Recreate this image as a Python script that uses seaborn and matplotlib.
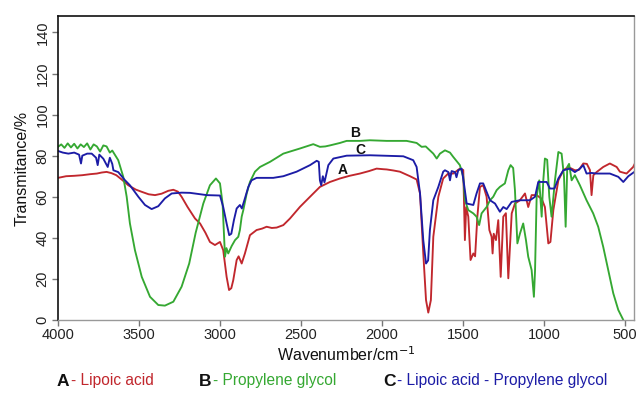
import numpy as np
import pandas as pd
import matplotlib
matplotlib.use("Agg")
import matplotlib.pyplot as plt
import seaborn as sns

# ---- data ----
wn_A = [4000, 3950, 3900, 3850, 3800, 3760, 3730, 3700, 3670, 3640, 3607, 3566, 3520, 3483, 3440, 3401,
        3360, 3319, 3288, 3260, 3237, 3200, 3154, 3123, 3090, 3062, 3031, 3000, 2980, 2959, 2944, 2930,
        2918, 2897, 2885, 2866, 2846, 2815, 2774, 2740, 2712, 2680, 2650, 2609, 2568, 2506, 2444, 2383,
        2321, 2259, 2200, 2136, 2080, 2033, 1990, 1971, 1930, 1889, 1827, 1786, 1765, 1745, 1728, 1714,
        1698, 1683, 1652, 1622, 1591, 1560, 1519, 1498, 1488, 1480, 1467, 1453, 1436, 1425, 1411, 1395,
        1375, 1354, 1337, 1323, 1317, 1310, 1296, 1282, 1267, 1251, 1235, 1220, 1199, 1179, 1148, 1117,
        1097, 1076, 1045, 1014, 994, 973, 960, 942, 911, 880, 850, 809, 785, 757, 735, 716, 706, 695,
        675, 634, 593, 551, 531, 490, 449, 440]
T_A = [69.2, 70.0, 70.2, 70.5, 71.0, 71.3, 71.8, 72.1, 71.5, 70.5, 68.4, 65.6, 63.5, 62.4, 61.2, 60.8,
       61.5, 62.9, 63.4, 62.5, 60.0, 55.0, 49.4, 47.0, 42.5, 38.0, 36.5, 38.0, 34.0, 21.0, 14.6, 15.5,
       19.4, 29.2, 31.0, 27.5, 32.4, 41.3, 43.8, 44.5, 45.4, 44.8, 45.0, 46.2, 49.4, 55.1, 60.0, 64.8,
       67.2, 68.9, 70.2, 71.3, 72.5, 73.7, 73.4, 73.3, 72.8, 72.2, 70.0, 68.4, 61.6, 32.6, 9.7, 3.6,
       9.7, 40.5, 60.0, 68.9, 71.3, 71.3, 73.7, 73.0, 38.9, 55.0, 50.3, 29.2, 32.4, 31.0, 50.3, 64.8,
       65.6, 60.0, 43.8, 40.5, 32.4, 42.0, 38.9, 48.6, 21.0, 50.3, 52.0, 20.3, 51.9, 56.7, 58.3, 61.6,
       55.0, 60.8, 60.8, 59.0, 55.0, 37.3, 38.0, 53.5, 68.0, 72.9, 74.5, 72.9, 73.0, 76.2, 76.0, 73.0, 60.8, 70.5,
       72.0, 74.5, 76.2, 74.5, 72.2, 71.3, 74.5, 76.0]

wn_B = [4000, 3980, 3960, 3940, 3920, 3900, 3880, 3860, 3840, 3820, 3800, 3780, 3760, 3740, 3720, 3700,
        3680, 3665, 3628, 3597, 3576, 3556, 3525, 3483, 3432, 3381, 3340, 3288, 3237, 3190, 3150, 3103,
        3062, 3025, 3000, 2984, 2969, 2960, 2949, 2928, 2907, 2887, 2877, 2866, 2856, 2835, 2815, 2784,
        2753, 2691, 2609, 2506, 2424, 2383, 2350, 2321, 2259, 2218, 2136, 2074, 1971, 1848, 1786, 1755,
        1730, 1683, 1662, 1642, 1611, 1580, 1560, 1519, 1498, 1488, 1467, 1436, 1416, 1400, 1385, 1354,
        1333, 1313, 1292, 1272, 1241, 1220, 1206, 1190, 1179, 1164, 1148, 1128, 1111, 1097, 1076, 1062,
        1055, 1045, 1029, 1014, 1004, 994, 980, 967, 953, 932, 911, 891, 876, 866, 856, 845, 829, 809,
        778, 737, 696, 665, 634, 603, 572, 541, 510]
T_B = [84.3, 85.5, 83.8, 86.0, 84.0, 85.8, 83.5, 85.5, 84.2, 86.0, 83.0, 85.5, 84.5, 82.0, 85.0, 84.5,
       81.5, 82.5, 77.8, 69.7, 60.0, 47.0, 34.0, 21.0, 11.3, 7.3, 7.0, 8.9, 16.2, 27.5, 42.5, 56.7,
       65.6, 68.9, 66.5, 56.7, 30.8, 35.0, 32.4, 36.0, 38.9, 40.5, 43.8, 50.3, 53.5, 61.6, 67.2, 72.2,
       74.5, 77.0, 81.0, 83.5, 85.6, 84.3, 84.5, 85.0, 86.2, 87.2, 87.2, 87.5, 87.2, 87.2, 86.2, 84.3,
       84.5, 81.0, 78.6, 81.0, 82.6, 81.5, 79.4, 75.4, 69.7, 58.3, 53.5, 51.9, 50.3, 46.2, 51.9, 55.0,
       58.3, 60.0, 63.2, 64.8, 66.5, 72.9, 75.4, 74.0, 63.2, 37.3, 42.1, 47.0, 38.9, 30.8, 24.3, 11.3,
       24.0, 60.0, 68.0, 50.3, 68.0, 78.6, 78.0, 60.0, 50.3, 68.0, 81.8, 81.0, 69.7, 45.4, 74.5, 76.0, 68.0, 70.5,
       65.6, 58.3, 51.9, 45.4, 35.6, 24.3, 13.0, 4.9, 0.0]

wn_C = [4000, 3970, 3936, 3900, 3870, 3858, 3850, 3820, 3792, 3765, 3755, 3745, 3720, 3693, 3680, 3665,
        3658, 3628, 3586, 3556, 3504, 3463, 3422, 3381, 3340, 3298, 3237, 3185, 3082, 3000, 2980, 2959,
        2943, 2930, 2914, 2897, 2877, 2865, 2846, 2825, 2805, 2774, 2671, 2609, 2527, 2444, 2403, 2390,
        2383, 2375, 2365, 2355, 2331, 2300, 2218, 2074, 1868, 1807, 1786, 1765, 1745, 1728, 1715, 1704,
        1683, 1652, 1622, 1611, 1590, 1580, 1570, 1549, 1540, 1529, 1508, 1494, 1477, 1436, 1416, 1395,
        1375, 1354, 1333, 1302, 1272, 1251, 1230, 1199, 1148, 1107, 1086, 1055, 1035, 983, 963, 935,
        911, 880, 840, 809, 778, 757, 737, 706, 675, 593, 541, 510, 479, 440]
T_C = [82.3, 81.5, 81.0, 81.5, 80.5, 76.2, 80.0, 81.0, 81.0, 79.0, 75.4, 80.5, 78.5, 74.5, 79.0, 76.0,
       72.9, 72.0, 68.0, 65.6, 60.0, 56.0, 54.0, 55.4, 59.2, 61.6, 62.0, 61.9, 60.8, 60.6, 55.0, 47.0,
       41.3, 42.0, 48.6, 54.3, 56.0, 54.3, 59.2, 64.8, 68.0, 69.2, 69.2, 70.0, 72.2, 75.4, 77.5, 77.0,
       68.0, 65.6, 70.0, 67.0, 75.4, 78.6, 80.0, 80.2, 79.7, 77.8, 74.5, 61.6, 38.9, 27.5, 29.0, 43.8,
       58.3, 64.8, 72.2, 72.9, 72.0, 68.0, 72.5, 72.0, 69.5, 72.9, 73.7, 66.5, 56.7, 56.0, 61.6, 66.5,
       66.5, 62.4, 58.3, 56.7, 52.7, 55.0, 54.0, 57.5, 58.3, 58.3, 58.3, 60.0, 67.2, 67.2, 64.0, 64.0,
       68.9, 72.9, 73.7, 72.0, 73.7, 75.4, 71.3, 71.6, 71.3, 71.3, 69.7, 67.2, 70.0, 72.2]

series = ["A", "B", "C"]
names = ["Lipoic acid", "Propylene glycol", "Lipoic acid - Propylene glycol"]
colors = {"A": "#c1272d", "B": "#35a832", "C": "#1c1ca6"}
x_ticks = [4000, 3500, 3000, 2500, 2000, 1500, 1000, 500]
y_ticks = [0, 20, 40, 60, 80, 100, 120, 140]

df = pd.concat([
    pd.DataFrame({"wn": wn_A, "T": T_A, "s": "A"}),
    pd.DataFrame({"wn": wn_B, "T": T_B, "s": "B"}),
    pd.DataFrame({"wn": wn_C, "T": T_C, "s": "C"}),
], ignore_index=True)

sns.set_theme(style="white")
plt.rcParams["font.family"] = ["Liberation Sans", "DejaVu Sans"]

fig = plt.figure(figsize=(6.36, 3.94), dpi=100)
ax = fig.add_axes([58 / 636, 1 - 320 / 394, 576 / 636, (320 - 16) / 394])

sns.lineplot(data=df, x="wn", y="T", hue="s", palette=colors, estimator=None,
             sort=False, legend=False, linewidth=1.35, ax=ax)

ax.set_xlim(4000, 444)
ax.set_ylim(0, 148)
ax.set_xticks(x_ticks)
ax.set_yticks(y_ticks)
ax.set_yticklabels([str(v) for v in y_ticks], rotation=90, va="center")
ax.tick_params(axis="both", which="both", direction="out", length=4, width=1,
               color="#777777", labelsize=10.5, labelcolor="#222222", pad=2,
               bottom=True, left=True)
for side in ["left", "top"]:
    ax.spines[side].set_color("#111111")
    ax.spines[side].set_linewidth(1.2)
for side in ["bottom", "right"]:
    ax.spines[side].set_color("#999999")
    ax.spines[side].set_linewidth(1.0)

ax.set_xlabel("Wavenumber/cm$^{-1}$", fontsize=11.5, color="#111111", labelpad=2)
ax.set_ylabel("Transmitance/%", fontsize=11.5, color="#111111", labelpad=4)

# curve labels
ax.text(2241, 72.9, "A", fontsize=10, fontweight="bold", ha="center", va="center", color="#111111")
ax.text(2167, 90.9, "B", fontsize=10, fontweight="bold", ha="center", va="center", color="#111111")
ax.text(2136, 82.6, "C", fontsize=10, fontweight="bold", ha="center", va="center", color="#111111")

# legend-like captions
leg_x = [57, 199, 383]
for s, nm, lx in zip(series, names, leg_x):
    fig.text(lx / 636, 1 - 381 / 394, s, fontsize=12.5, fontweight="bold",
             color="#111111", ha="left", va="center")
    ax.annotate("- " + nm, xy=(lx / 636, 1 - 381 / 394), xycoords="figure fraction",
                xytext=(10, 0), textcoords="offset points", fontsize=11.2,
                color=colors[s], ha="left", va="center")

fig.savefig("out.png", dpi=100)
